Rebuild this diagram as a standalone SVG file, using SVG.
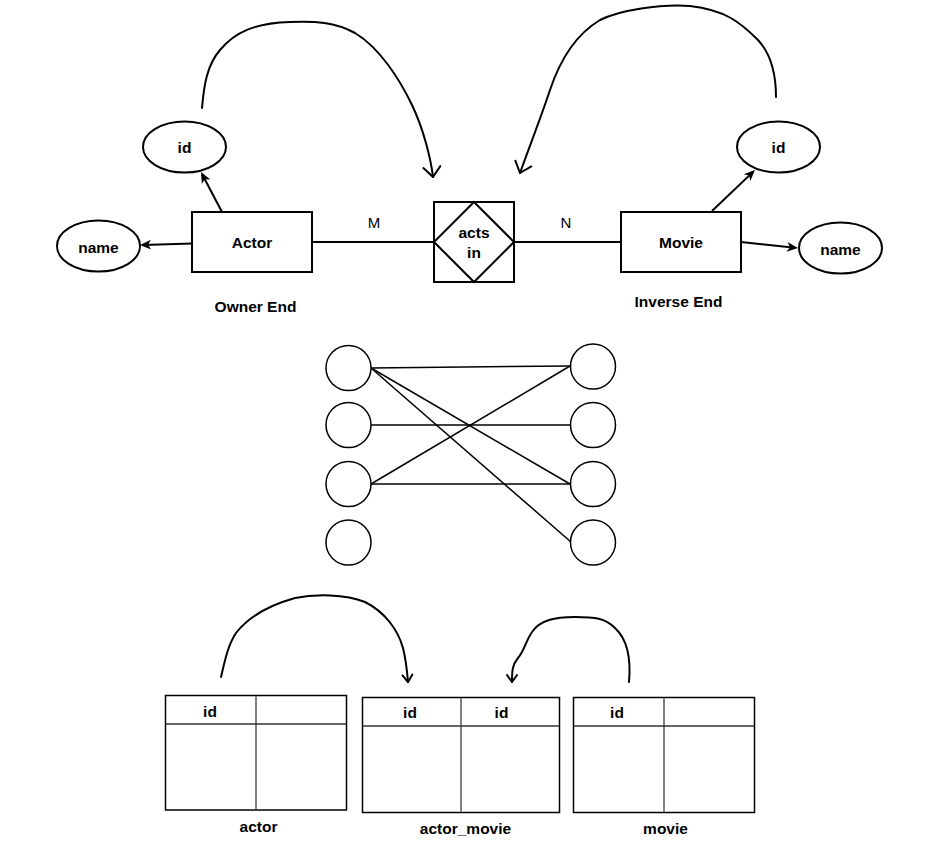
<svg xmlns="http://www.w3.org/2000/svg" width="943" height="846" viewBox="0 0 943 846">
<style>
.t{font-family:"Liberation Sans",Arial,sans-serif;font-weight:bold;font-size:15.5px;fill:#000;text-anchor:middle}
.r{font-family:"Liberation Sans",Arial,sans-serif;font-size:15px;fill:#000;text-anchor:middle}
.box{fill:#fff;stroke:#000;stroke-width:2}
.circ{fill:#fff;stroke:#000;stroke-width:1.5}
.ln{fill:none;stroke:#000;stroke-width:2}
.thin{fill:none;stroke:#000;stroke-width:1.5}
.curve{fill:none;stroke:#000;stroke-width:2;stroke-linecap:round}
.tb{fill:#fff;stroke:#000;stroke-width:1.5}
.hd{stroke:#333;stroke-width:1.5}
.dv{stroke:#808080;stroke-width:2}
</style>
<defs>
<marker id="arr" markerUnits="userSpaceOnUse" viewBox="-9 -6 13 12" refX="0" refY="0" markerWidth="13" markerHeight="12" orient="auto" overflow="visible">
<path d="M3,0 L-8,-4.8 L-5,0 L-8,4.8 Z" fill="#000"/>
</marker>
<marker id="openBig" markerUnits="userSpaceOnUse" viewBox="-14 -12 16 24" refX="0" refY="0" markerWidth="16" markerHeight="24" orient="auto" overflow="visible">
<path d="M-10,-8.5 L0,0 L-10,8.5" fill="none" stroke="#000" stroke-width="2" stroke-linecap="round" stroke-linejoin="round"/>
</marker>
<marker id="openSmall" markerUnits="userSpaceOnUse" viewBox="-10 -8 12 16" refX="0" refY="0" markerWidth="12" markerHeight="16" orient="auto" overflow="visible">
<path d="M-7,-5 L0,0 L-7,5" fill="none" stroke="#000" stroke-width="2" stroke-linecap="round" stroke-linejoin="round"/>
</marker>
</defs>
<rect width="943" height="846" fill="#fff"/>

<g id="connectors">
<line class="ln" x1="312" y1="242" x2="434" y2="242"/>
<line class="ln" x1="514" y1="242" x2="621" y2="242"/>
<line class="ln" x1="222" y1="212" x2="202.4" y2="174.7" marker-end="url(#arr)"/>
<line class="ln" x1="192" y1="243.5" x2="143" y2="244.9" marker-end="url(#arr)"/>
<line class="ln" x1="712" y1="211" x2="752.8" y2="172.1" marker-end="url(#arr)"/>
<line class="ln" x1="741" y1="242" x2="795" y2="247.7" marker-end="url(#arr)"/>
<path class="curve" d="M202,108 C204,85 207,65 220,50 C235,32 255,23 290,22 C315,21 335,22 355,33 C380,48 400,80 412,105 C424,130 431,160 433,177" marker-end="url(#openBig)"/>
<path class="curve" d="M776,97 C776,75 772,55 758,40 C740,22 725,10 690,6 C660,4 620,10 600,20 C575,35 560,60 550,90 C540,120 530,145 520,173" marker-end="url(#openBig)"/>
<path class="curve" d="M221,677 C225,660 228,645 236,633 C250,615 270,605 295,598 C315,594 345,594 365,602 C385,612 398,630 403,648 C406,660 407,670 408,682" marker-end="url(#openSmall)"/>
<path class="curve" d="M629,682 C631,660 628,640 615,628 C605,618 595,617 575,617 C555,617 540,620 532,632 C525,642 525,650 518,658 C512,665 512,672 512,682" marker-end="url(#openSmall)"/>
<line class="thin" x1="371" y1="368" x2="570" y2="366"/>
<line class="thin" x1="371" y1="368" x2="570" y2="484"/>
<line class="thin" x1="371" y1="368" x2="571" y2="542"/>
<line class="thin" x1="371" y1="425" x2="570" y2="425"/>
<line class="thin" x1="371" y1="484" x2="570" y2="366"/>
<line class="thin" x1="371" y1="484" x2="570" y2="484"/>
</g>

<g id="actor">
<rect class="box" x="192" y="212" width="120" height="60"/>
<text class="t" x="252" y="248">Actor</text>
</g>
<g id="actor-id">
<ellipse class="box" cx="184.5" cy="147" rx="41.5" ry="25.5"/>
<text class="t" x="184.5" y="153">id</text>
</g>
<g id="actor-name">
<ellipse class="box" cx="98.5" cy="246" rx="41.5" ry="25.5"/>
<text class="t" x="98.5" y="252.5">name</text>
</g>
<g id="acts-in">
<rect class="box" x="434" y="202" width="80" height="80"/>
<polygon class="box" points="474,202 514,242 474,282 434,242"/>
<text class="t" x="474" y="238">acts</text>
<text class="t" x="474" y="258">in</text>
</g>
<g id="movie">
<rect class="box" x="621" y="212" width="120" height="60"/>
<text class="t" x="681" y="248">Movie</text>
</g>
<g id="movie-id">
<ellipse class="box" cx="778.5" cy="147" rx="41.5" ry="25.5"/>
<text class="t" x="778.5" y="153">id</text>
</g>
<g id="movie-name">
<ellipse class="box" cx="840.5" cy="248" rx="41.5" ry="25.5"/>
<text class="t" x="840.5" y="254.5">name</text>
</g>
<g id="labels">
<text class="r" x="374" y="228">M</text>
<text class="r" x="566" y="228">N</text>
<text class="t" x="255.5" y="311.5">Owner End</text>
<text class="t" x="678.5" y="307">Inverse End</text>
</g>

<g id="left-circles">
<circle class="circ" cx="348.5" cy="368" r="22.5"/>
<circle class="circ" cx="348.5" cy="425" r="22.5"/>
<circle class="circ" cx="348.5" cy="484" r="22.5"/>
<circle class="circ" cx="348.5" cy="542.5" r="22.5"/>
</g>
<g id="right-circles">
<circle class="circ" cx="593" cy="366.5" r="22.5"/>
<circle class="circ" cx="593" cy="425" r="22.5"/>
<circle class="circ" cx="593" cy="484" r="22.5"/>
<circle class="circ" cx="593" cy="542.5" r="22.5"/>
</g>

<g id="table-actor">
<rect class="tb" x="165.5" y="695.5" width="181" height="114.5"/>
<line class="dv" x1="256" y1="696" x2="256" y2="809"/>
<line class="hd" x1="166" y1="724" x2="346" y2="724"/>
<text class="t" x="210" y="716.5">id</text>
<text class="t" x="258.5" y="831.5">actor</text>
</g>
<g id="table-actor-movie">
<rect class="tb" x="362.5" y="697.5" width="197" height="115"/>
<line class="dv" x1="461" y1="698" x2="461" y2="812"/>
<line class="hd" x1="363" y1="726" x2="559" y2="726"/>
<text class="t" x="410" y="718">id</text>
<text class="t" x="501.5" y="718">id</text>
<text class="t" x="465.5" y="834">actor_movie</text>
</g>
<g id="table-movie">
<rect class="tb" x="573.5" y="697.5" width="181" height="115"/>
<line class="dv" x1="664" y1="698" x2="664" y2="812"/>
<line class="hd" x1="574" y1="726" x2="754" y2="726"/>
<text class="t" x="617" y="718">id</text>
<text class="t" x="665.5" y="834">movie</text>
</g>
</svg>
